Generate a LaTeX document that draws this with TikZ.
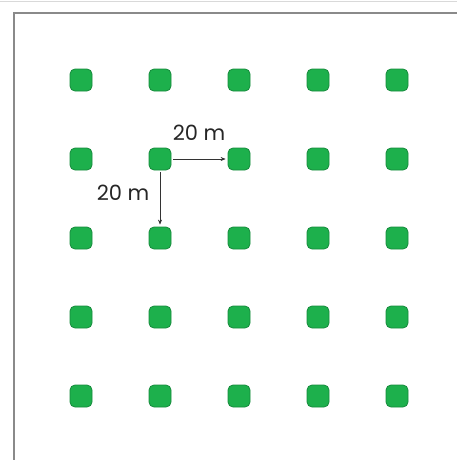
\documentclass[tikz,border=0pt]{standalone}
\usepackage{fontspec}
\setmainfont{Poppins}
\usetikzlibrary{arrows.meta}
\definecolor{treegreen}{HTML}{1DB04C}
\definecolor{treeedge}{HTML}{168A3C}
\definecolor{framegray}{HTML}{8A8A8A}
\tikzset{
  tree/.style={draw=treeedge,fill=treegreen,line width=0.8pt,rounded corners=5pt,
    minimum size=22pt,inner sep=0pt},
  gap/.style={draw=black!80,line width=0.6pt,-{Stealth[length=5pt,width=4pt]}},
  gaplabel/.style={font=\fontsize{21}{24}\selectfont,text=black!85}
}

\begin{document}
\begin{tikzpicture}[x=1pt,y=-1pt]
\useasboundingbox (0,0) rectangle (457,460);
\draw[black!15,line width=0.6pt] (0,1.5) -- (457,1.5);
\draw[framegray,line width=1.2pt] (14,470) -- (14,13) -- (470,13);
% planting grid, 20 m spacing
\foreach \i in {1,...,5}
  \foreach \j in {1,...,5}
    \node[tree] (t-\i-\j) at (2+79*\i,1+79*\j) {};
\draw[gap] (t-2-2.east) ++(2,0) -- ([xshift=-2pt]t-3-2.west);
\draw[gap] (t-2-2.south) ++(0,2) -- ([yshift=2pt]t-2-3.north);
\node[gaplabel] at (199,133) {20 m};
\node[gaplabel] at (123,193) {20 m};
\end{tikzpicture}
\end{document}
